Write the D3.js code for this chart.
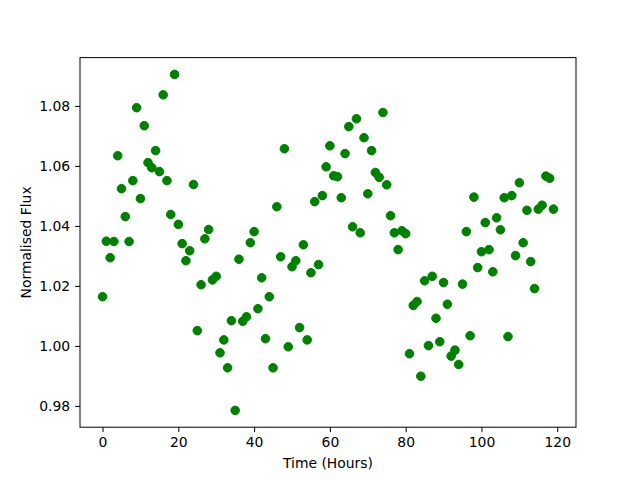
<!DOCTYPE html>
<html>
<head>
<meta charset="utf-8">
<script src="https://cdn.jsdelivr.net/npm/d3@7"></script>
<style>
  html, body { margin: 0; padding: 0; background: #fff; }
  text { font-family: "DejaVu Sans", sans-serif; }
</style>
</head>
<body>
<svg id="chart" width="640" height="480"></svg>
<script>
// Time in hours
const hours = d3.range(0, 120);
// Normalised flux
const flux = [
  1.0164, 1.0349, 1.0294, 1.0348, 1.0634, 1.0524, 1.0431, 1.0348, 1.0551, 1.0794,
  1.0491, 1.0734, 1.0611, 1.0594, 1.0651, 1.0581, 1.0837, 1.0551, 1.0438, 1.0905,
  1.0405, 1.0341, 1.0284, 1.0317, 1.0538, 1.0051, 1.0204, 1.0357, 1.0388, 1.0220,
  1.0232, 0.9977, 1.0020, 0.9927, 1.0084, 0.9785, 1.0289, 1.0082, 1.0097, 1.0344,
  1.0381, 1.0124, 1.0227, 1.0024, 1.0164, 0.9927, 1.0464, 1.0297, 1.0657, 0.9997,
  1.0264, 1.0284, 1.0061, 1.0337, 1.0020, 1.0244, 1.0481, 1.0271, 1.0501, 1.0597,
  1.0667, 1.0567, 1.0564, 1.0494, 1.0641, 1.0731, 1.0397, 1.0757, 1.0377, 1.0694,
  1.0507, 1.0651, 1.0578, 1.0562, 1.0778, 1.0537, 1.0434, 1.0377, 1.0321, 1.0384,
  1.0374, 0.9974, 1.0135, 1.0148, 0.9899, 1.0217, 1.0001, 1.0232, 1.0092, 1.0014,
  1.0211, 1.0139, 0.9966, 0.9986, 0.9938, 1.0206, 1.0381, 1.0034, 1.0496, 1.0261,
  1.0314, 1.0411, 1.0321, 1.0247, 1.0427, 1.0387, 1.0494, 1.0031, 1.0501, 1.0301,
  1.0544, 1.0344, 1.0452, 1.0281, 1.0191, 1.0456, 1.0469, 1.0566, 1.0559, 1.0456
];
const xTicks = [0, 20, 40, 60, 80, 100, 120];
const yTicks = [0.98, 1.00, 1.02, 1.04, 1.06, 1.08];
const xLabel = "Time (Hours)";
const yLabel = "Normalised Flux";

const data = hours.map((h, i) => ({ t: h, f: flux[i] }));

const svg = d3.select("#chart");
const mLeft = 80, mRight = 576, mTop = 57.6, mBottom = 427.2;

const xMin = d3.min(hours), xMax = d3.max(hours);
const xPad = (xMax - xMin) * 0.05;
const yMin = d3.min(flux), yMax = d3.max(flux);
const yPad = (yMax - yMin) * 0.05;

const x = d3.scaleLinear().domain([xMin - xPad, xMax + xPad]).range([mLeft, mRight]);
const y = d3.scaleLinear().domain([yMin - yPad, yMax + yPad]).range([mBottom, mTop]);

// points
svg.append("g")
  .selectAll("circle")
  .data(data)
  .join("circle")
  .attr("cx", d => x(d.t))
  .attr("cy", d => y(d.f))
  .attr("r", 4.3)
  .attr("fill", "#008000")
  .attr("stroke", "#008000")
  .attr("stroke-width", 1);

// frame
svg.append("rect")
  .attr("x", mLeft).attr("y", mTop)
  .attr("width", mRight - mLeft).attr("height", mBottom - mTop)
  .attr("fill", "none").attr("stroke", "#000").attr("stroke-width", 1);

const xAxis = d3.axisBottom(x).tickValues(xTicks).tickFormat(d3.format("d"))
  .tickSizeInner(4.9).tickSizeOuter(0).tickPadding(4.9);
const gx = svg.append("g").attr("transform", `translate(0,${mBottom})`).call(xAxis);
gx.select(".domain").remove();
gx.selectAll("text").attr("font-size", "13.9px").attr("font-family", "DejaVu Sans, sans-serif").attr("fill", "#000");
gx.selectAll("line").attr("stroke", "#000");

const yAxis = d3.axisLeft(y).tickValues(yTicks).tickFormat(d3.format(".2f"))
  .tickSizeInner(4.9).tickSizeOuter(0).tickPadding(4.9);
const gy = svg.append("g").attr("transform", `translate(${mLeft},0)`).call(yAxis);
gy.select(".domain").remove();
gy.selectAll("text").attr("font-size", "13.9px").attr("font-family", "DejaVu Sans, sans-serif").attr("fill", "#000");
gy.selectAll("line").attr("stroke", "#000");

svg.append("text")
  .attr("x", (mLeft + mRight) / 2).attr("y", 468)
  .attr("text-anchor", "middle")
  .attr("font-size", "13.9px")
  .text(xLabel);

svg.append("text")
  .attr("transform", `translate(31,${(mTop + mBottom) / 2}) rotate(-90)`)
  .attr("text-anchor", "middle")
  .attr("font-size", "13.9px")
  .text(yLabel);
</script>
</body>
</html>
